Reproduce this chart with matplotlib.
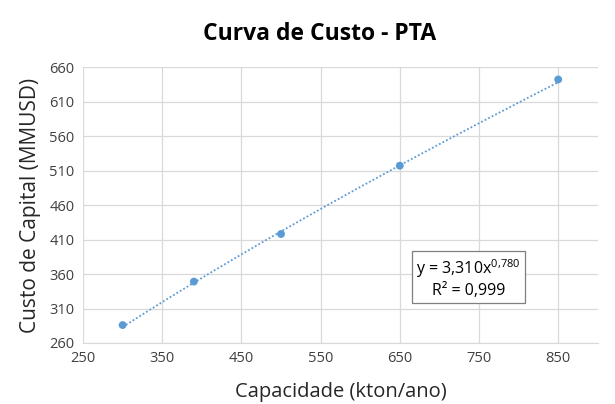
import matplotlib
matplotlib.use("Agg")
import matplotlib.pyplot as plt
import numpy as np

capacidade = [300, 390, 500, 650, 850]
custo = [286, 349, 418, 517, 642]
coef_a = 3.310
coef_b = 0.780
eq_text = "y = 3,310x$^{0{,}780}$\nR² = 0,999"
x_ticks = [250, 350, 450, 550, 650, 750, 850]
y_ticks = [260, 310, 360, 410, 460, 510, 560, 610, 660]

plt.rcParams['font.family'] = ['Open Sans', 'DejaVu Sans']
plt.rcParams['mathtext.fontset'] = 'custom'
plt.rcParams['mathtext.rm'] = 'Open Sans'
plt.rcParams['mathtext.it'] = 'Open Sans'

fig = plt.figure(figsize=(6.15, 4.04), dpi=100)
ax = fig.add_axes([0.135, 0.151, 0.837, 0.683])

color = '#5B9BD5'
xt = np.linspace(min(capacidade), max(capacidade), 200)
ax.plot(xt, coef_a * xt ** coef_b, linestyle=(0, (1, 1.2)), color=color, linewidth=1.3, zorder=2)
ax.scatter(capacidade, custo, s=32, color=color, zorder=3, edgecolors='none')

ax.set_xlim(250, 900)
ax.set_ylim(260, 660)
ax.set_xticks(x_ticks)
ax.set_yticks(y_ticks)
ax.grid(True, color='#D9D9D9', linewidth=0.9)
ax.set_axisbelow(True)
for s in ['top', 'right', 'left']:
    ax.spines[s].set_visible(False)
ax.spines['bottom'].set_color('#D9D9D9')
ax.tick_params(length=0, labelsize=10.5, colors='#404040', pad=6)

ax.set_xlabel('Capacidade (kton/ano)', fontsize=14.5, color='#262626', labelpad=11)
ax.set_ylabel('Custo de Capital (MMUSD)', fontsize=15, color='#262626', labelpad=6)
fig.suptitle('Curva de Custo - PTA', fontsize=16.5, fontweight='bold', x=0.52, y=0.945)

ax.text(737, 354, eq_text, fontsize=11.5, ha='center', va='center', color='#000000',
        linespacing=1.3,
        bbox=dict(boxstyle='square,pad=0.25', facecolor='white', edgecolor='#7F7F7F', linewidth=0.9))

fig.savefig('out.png', dpi=100)
